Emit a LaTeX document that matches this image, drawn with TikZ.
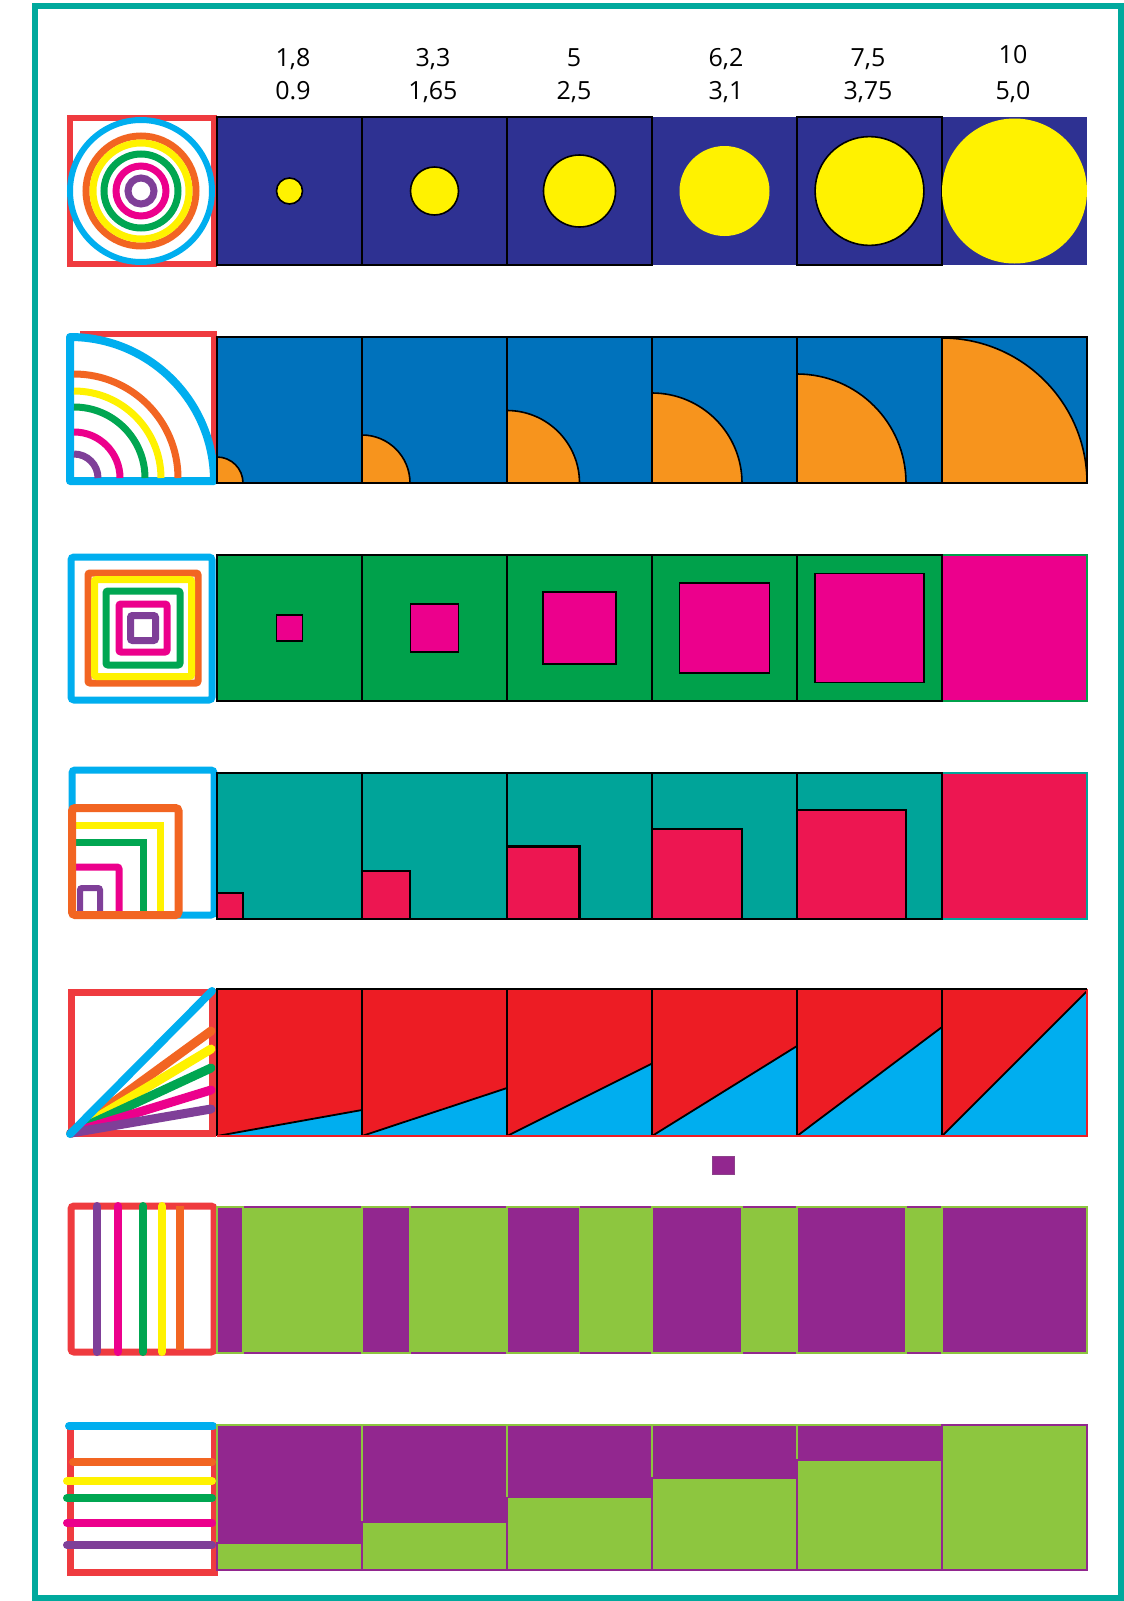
\documentclass[tikz,border=0pt]{standalone}
\usepackage{fontspec}
\setmainfont{Open Sans}
\definecolor{framec}{HTML}{00A99D}
\definecolor{navy}{HTML}{2E3192}
\definecolor{yel}{HTML}{FFF200}
\definecolor{rblue}{HTML}{0072BC}
\definecolor{rorange}{HTML}{F7941D}
\definecolor{rgreen}{HTML}{00A14B}
\definecolor{magen}{HTML}{EC008C}
\definecolor{rteal}{HTML}{00A499}
\definecolor{crims}{HTML}{ED1651}
\definecolor{rred}{HTML}{ED1C24}
\definecolor{cyanb}{HTML}{00AEEF}
\definecolor{purp}{HTML}{92278F}
\definecolor{lime}{HTML}{8DC63F}
\definecolor{ired}{HTML}{EF3B3F}
\definecolor{iorange}{HTML}{F26522}
\definecolor{igreen}{HTML}{00A651}
\definecolor{ipurp}{HTML}{7F3F98}
\tikzset{
  lbl/.style={anchor=base, inner sep=0pt, font=\fontsize{25}{30}\selectfont},
  cellb/.style={draw=black, line width=1.6},
  ic/.style={line width=7},
  ray/.style={line width=9, line cap=round},
}
\begin{document}
\begin{tikzpicture}[x=1pt,y=-1pt]
\useasboundingbox (0,0) rectangle (1124,1601);
\fill[white] (0,0) rectangle (1124,1601);
\draw[framec, line width=6] (35,6) rectangle (1121,1598);

% ---------- labels ----------
\node[lbl] (t1a) at (293,66) {1,8};
\node[lbl] (t1b) at (293,99) {0.9};
\node[lbl] (t2a) at (433,66) {3,3};
\node[lbl] (t2b) at (433,99) {1,65};
\node[lbl] (t3a) at (574,66) {5};
\node[lbl] (t3b) at (574,99) {2,5};
\node[lbl] (t4a) at (726,66) {6,2};
\node[lbl] (t4b) at (726,99) {3,1};
\node[lbl] (t5a) at (868,66) {7,5};
\node[lbl] (t5b) at (868,99) {3,75};
\node[lbl] (t6a) at (1013,63) {10};
\node[lbl] (t6b) at (1013,99) {5,0};

% ---------- row 1: circles ----------
\draw[ired, line width=6] (70,118) rectangle (214,264);
\draw[cyanb, line width=6] (141,191) circle[radius=71pt];
\draw[iorange, line width=7] (141,191) circle[radius=55pt];
\draw[yel, line width=7] (141,191) circle[radius=48pt];
\draw[igreen, line width=7] (141,191) circle[radius=37pt];
\draw[magen, line width=7] (141,191) circle[radius=25pt];
\draw[ipurp, line width=7] (141,191) circle[radius=13pt];
\foreach \j in {0,...,5} {
  \fill[navy] (217+145*\j,117) rectangle ++(145,148);
}
\foreach \j/\r/\bd in {0/13/1,1/24/1,2/36/1,3/45/0,4/54.4/1,5/72.5/0} {
  \ifnum\bd=1 \draw[cellb] (217+145*\j,117) rectangle ++(145,148); \fi
  \fill[yel] (289.5+145*\j,191) circle[radius=\r pt];
  \ifnum\bd=1 \draw[black, line width=1.6] (289.5+145*\j,191) circle[radius=\r pt]; \fi
}

% ---------- row 2: quarter circles ----------
\draw[ired, line width=6] (80,334) -- (214,334) -- (214,481);
\draw[cyanb, line width=8, line join=round] (70,481) -- (214,481) arc[start angle=0, end angle=90, radius=144pt] -- cycle;
\foreach \r/\c in {104/iorange,87/yel,71/igreen,46/magen,24/ipurp} {
  \draw[\c, line width=7] (74+\r,478) arc[start angle=0, end angle=90, radius=\r pt];
}
\foreach \j in {0,...,5} {
  \fill[rblue] (217+145*\j,337) rectangle ++(145,146);
}
\foreach \j/\r in {0/26,1/48,2/72.5,3/90,4/109,5/145} {
  \fill[rorange] (217+145*\j,483) -- ++(\r,0) arc[start angle=0, end angle=90, radius=\r pt] -- cycle;
  \draw[black, line width=1.6] (217+145*\j+\r,483) arc[start angle=0, end angle=90, radius=\r pt];
  \draw[cellb] (217+145*\j,337) rectangle ++(145,146);
}

% ---------- row 3: squares ----------
\draw[cyanb, line width=7, rounded corners=3] (71,557) rectangle (212,700);
\foreach \h/\c in {55/iorange,48.5/yel,37/igreen,24/magen,12.5/ipurp} {
  \draw[\c, line width=7, rounded corners=2] (143-\h,628-\h) rectangle (143+\h,628+\h);
}
\foreach \j in {0,...,4} {
  \fill[rgreen] (217+145*\j,555) rectangle ++(145,146);
}
\fill[magen] (942,555) rectangle (1087,701);
\draw[rgreen, line width=1.2] (942,555) rectangle (1087,701);
\foreach \j/\s in {0/26,1/48,2/72.5,3/90,4/109} {
  \draw[cellb] (217+145*\j,555) rectangle ++(145,146);
  \filldraw[fill=magen, draw=black, line width=1.6] (289.5+145*\j-\s/2,628-\s/2) rectangle ++(\s,\s);
}

% ---------- row 4: corner squares ----------
\draw[cyanb, line width=7, rounded corners=3] (72,770) rectangle (214,915);
\draw[yel, line width=7] (72,913) -- (72,825) -- (160,825) -- (160,913);
\draw[igreen, line width=7] (72,913) -- (72,842) -- (143,842) -- (143,913);
\draw[magen, line width=7, rounded corners=2] (72,913) -- (72,867) -- (119,867) -- (119,913);
\draw[ipurp, line width=6, rounded corners=2] (80,913) -- (80,888) -- (100,888) -- (100,913);
\draw[iorange, line width=8, rounded corners=3] (72,808) rectangle (178.5,915);
\foreach \j in {0,...,4} {
  \fill[rteal] (217+145*\j,773) rectangle ++(145,146);
}
\fill[crims] (942,773) rectangle (1087,919);
\draw[rteal, line width=1.2] (942,773) rectangle (1087,919);
\foreach \j/\s in {0/26,1/48,2/72.5,3/90,4/109} {
  \fill[crims] (217+145*\j,919) rectangle ++(\s,-\s);
  \draw[cellb] (217+145*\j,773) rectangle ++(145,146);
  \draw[black, line width=2.2] (217+145*\j,919-\s) -- ++(\s,0) -- ++(0,\s);
}

% ---------- row 5: triangles ----------
\draw[ired, line width=7] (71,992) rectangle (212,1133);
\foreach \y/\c in {1031/iorange,1049/yel,1068/igreen,1090/magen,1109/ipurp} {
  \draw[\c, ray] (71,1133) -- (211,\y);
}
\draw[cyanb, line width=8, line cap=round] (70,1134) -- (212,991);
\foreach \j in {0,...,5} {
  \fill[rred] (217+145*\j,989) rectangle ++(145,147);
}
\foreach \j/\h in {0/26,1/48,2/72.5,3/90,4/109,5/145} {
  \fill[cyanb] (217+145*\j,1136) -- ++(145,0) -- ++(0,-\h) -- cycle;
  \draw[black, line width=1.8] (217+145*\j,1136) -- ++(145,-\h);
}
\foreach \j in {0,...,4} {
  \draw[cellb] (217+145*\j,1136) -- ++(0,-147) -- ++(145,0) -- ++(0,147);
}
\draw[rred, line width=1.6] (217,1136) -- (1087,1136) -- (1087,989);
\draw[cellb] (942,989) -- (1087,989);
\filldraw[fill=purp, draw=purp!70!gray, line width=0.8] (712,1156) rectangle (734,1174);

% ---------- row 6: vertical bars ----------
\draw[ired, line width=7, rounded corners=3] (71,1206) rectangle (214,1352);
\foreach \x/\c in {97/ipurp,118/magen,143/igreen,162/yel} {
  \draw[\c, line width=8, line cap=round] (\x,1206) -- (\x,1352);
}
\draw[iorange, line width=8] (180,1206) -- (180,1350);
\foreach \j/\w in {0/26,1/48,2/72.5,3/90,4/109} {
  \filldraw[fill=lime, draw=purp, line width=1.3] (217+145*\j+\w,1207) rectangle (362+145*\j,1353);
  \filldraw[fill=purp, draw=lime, line width=1.3] (217+145*\j,1207) rectangle ++(\w,146);
}
\filldraw[fill=purp, draw=lime, line width=1.3] (942,1207) rectangle (1087,1353);

% ---------- row 7: horizontal bars ----------
\draw[ired, line width=7] (70,1426) -- (70,1572) -- (214,1572) -- (214,1426);
\foreach \y/\c/\xs in {1462/iorange/73,1481/yel/67,1498/igreen/67,1523/magen/67,1545/ipurp/67} {
  \draw[\c, line width=8, line cap=round] (\xs,\y) -- (212,\y);
}
\draw[cyanb, line width=8, line cap=round] (69,1426) -- (213,1426);
\foreach \j/\h in {0/27,1/48,2/72.5,3/92,4/110} {
  \filldraw[fill=purp, draw=lime, line width=1.3] (217+145*\j,1425) rectangle (362+145*\j,1570-\h);
  \filldraw[fill=lime, draw=purp, line width=1.3] (217+145*\j,1570-\h) rectangle (362+145*\j,1570);
}
\filldraw[fill=lime, draw=purp, line width=1.3] (942,1425) rectangle (1087,1570);
\end{tikzpicture}
\end{document}
